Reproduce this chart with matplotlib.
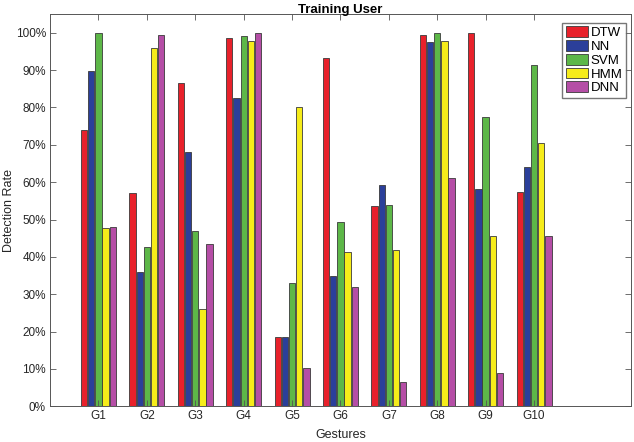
import matplotlib.pyplot as plt
import numpy as np

plt.rcParams["font.family"] = ["Liberation Sans", "DejaVu Sans"]

gestures = ["G1", "G2", "G3", "G4", "G5", "G6", "G7", "G8", "G9", "G10"]

dtw = [74.0, 57.2, 86.5, 98.6, 18.5, 93.3, 53.5, 99.3, 100.0, 57.3]
nn = [89.8, 36.0, 68.0, 82.6, 18.6, 34.8, 59.2, 97.5, 58.2, 64.0]
svm = [100.0, 42.7, 46.8, 99.2, 33.1, 49.2, 54.0, 100.0, 77.4, 91.4]
hmm = [47.6, 96.0, 26.0, 97.8, 80.0, 41.4, 41.7, 97.7, 45.5, 70.5]
dnn = [48.1, 99.3, 43.5, 100.0, 10.2, 32.0, 6.6, 61.0, 8.9, 45.5]

series = {"DTW": dtw, "NN": nn, "SVM": svm, "HMM": hmm, "DNN": dnn}

colors = {
    "DTW": "#e8212b",
    "NN": "#2b3f9a",
    "SVM": "#5db748",
    "HMM": "#f6ec1a",
    "DNN": "#b54ea6",
}

fig = plt.figure(figsize=(6.34, 4.42), dpi=100)
ax = fig.add_axes([0.079, 0.081, 0.916, 0.887])

x = np.arange(1, len(gestures) + 1)
n = len(series)
step = 0.148
width = 0.13

for i, (name, vals) in enumerate(series.items()):
    offset = (i - (n - 1) / 2) * step
    ax.bar(
        x + offset,
        np.array(vals) / 100,
        width,
        label=name,
        color=colors[name],
        edgecolor="#3a3a3a",
        linewidth=0.6,
    )

ax.set_xlim(0, 12)
ax.set_ylim(0, 1.05)
ax.set_xticks(x)
ax.set_xticklabels(gestures, fontsize=8.5, color="#262626")
ax.set_yticks(np.linspace(0, 1, 11))
ax.set_yticklabels([f"{v}%" for v in range(0, 101, 10)], fontsize=8.5, color="#262626")

ax.tick_params(direction="in", top=True, right=True, length=4, width=0.6,
               color="#555555", pad=3)
for s in ax.spines.values():
    s.set_color("#555555")
    s.set_linewidth(0.7)

ax.set_xlabel("Gestures", fontsize=9, color="#262626")
ax.set_ylabel("Detection Rate", fontsize=9, color="#262626")
ax.xaxis.set_label_coords(0.5, -0.057)
ax.yaxis.set_label_coords(-0.061, 0.5)
ax.set_title("Training User", fontsize=9.5, fontweight="bold", pad=1)

ax.legend(
    loc="upper right",
    bbox_to_anchor=(0.9914, 0.977),
    fontsize=9.5,
    frameon=True,
    fancybox=False,
    edgecolor="#555555",
    handlelength=1.7,
    handleheight=0.9,
    handletextpad=0.2,
    labelspacing=0.05,
    borderpad=0.25,
    borderaxespad=0.0,
)

plt.savefig("out.png", dpi=100)
